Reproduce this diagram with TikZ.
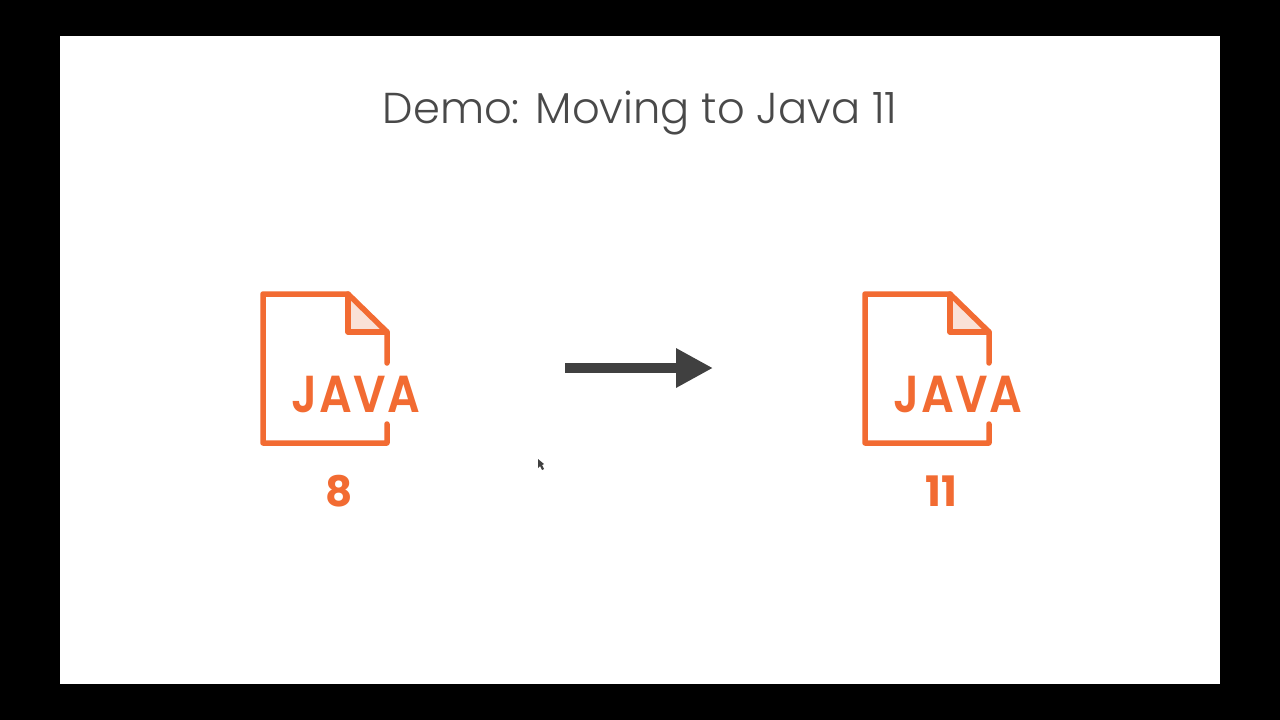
\documentclass[tikz,border=0pt]{standalone}
\usepackage{fontspec}
\usepackage{tikz}
\usetikzlibrary{arrows.meta}
\setmainfont{Poppins}
\newfontfamily\titlefont{Poppins Light}
\newfontfamily\logofont[LetterSpace=3,FakeStretch=0.88]{Poppins SemiBold}
\definecolor{javaorange}{HTML}{F26B32}
\definecolor{foldtint}{HTML}{FAE1D7}
\definecolor{slidegrey}{HTML}{404040}
\tikzset{
filestroke/.style={draw=javaorange, line width=5.5pt, line join=round, line cap=round},
logotext/.style={text=javaorange, font=\logofont\fontsize{52}{52}\selectfont, inner sep=0pt},
versiontext/.style={text=javaorange, font=\bfseries\fontsize{42}{42}\selectfont, inner sep=0pt},
}
\begin{document}
\begin{tikzpicture}[x=1pt,y=-1pt]
\useasboundingbox (0,0) rectangle (1280,720);
\fill[black] (0,0) rectangle (1280,720);
\fill[white] (60,36) rectangle (1220,684);
\node[text=slidegrey!95!white, font=\titlefont\fontsize{43.2}{43.2}\selectfont, inner sep=0pt] (title) at (640,113) {Demo: Moving to Java 11};
\foreach \name/\xoff/\ver in {eight/0/8,eleven/602/11} {
\begin{scope}[xshift=\xoff pt]
\fill[foldtint] (348,294) -- (387,332) -- (348,332) -- cycle;
\draw[filestroke] (387,363) -- (387,332) -- (348,294) -- (263,294) -- (263,443) -- (387,443) -- (387,424);
\draw[filestroke] (348,294) -- (348,332) -- (387,332);
\node[logotext] (logo\name) at (356,394.5) {JAVA};
\node[versiontext] (version\name) at (339,491) {\ver};
\end{scope}
}
\coordinate (arrowstart) at (565,368);
\coordinate (arrowend) at (713,368);
\draw[slidegrey, line width=10pt, -{Triangle[length=37pt,width=37pt]}] (arrowstart) -- (arrowend);
% mouse pointer
\fill[slidegrey] (538,459) -- (538,468) -- (540,466) -- (542,470) -- (544,469) -- (542,465) -- (544,464) -- cycle;
\end{tikzpicture}
\end{document}
